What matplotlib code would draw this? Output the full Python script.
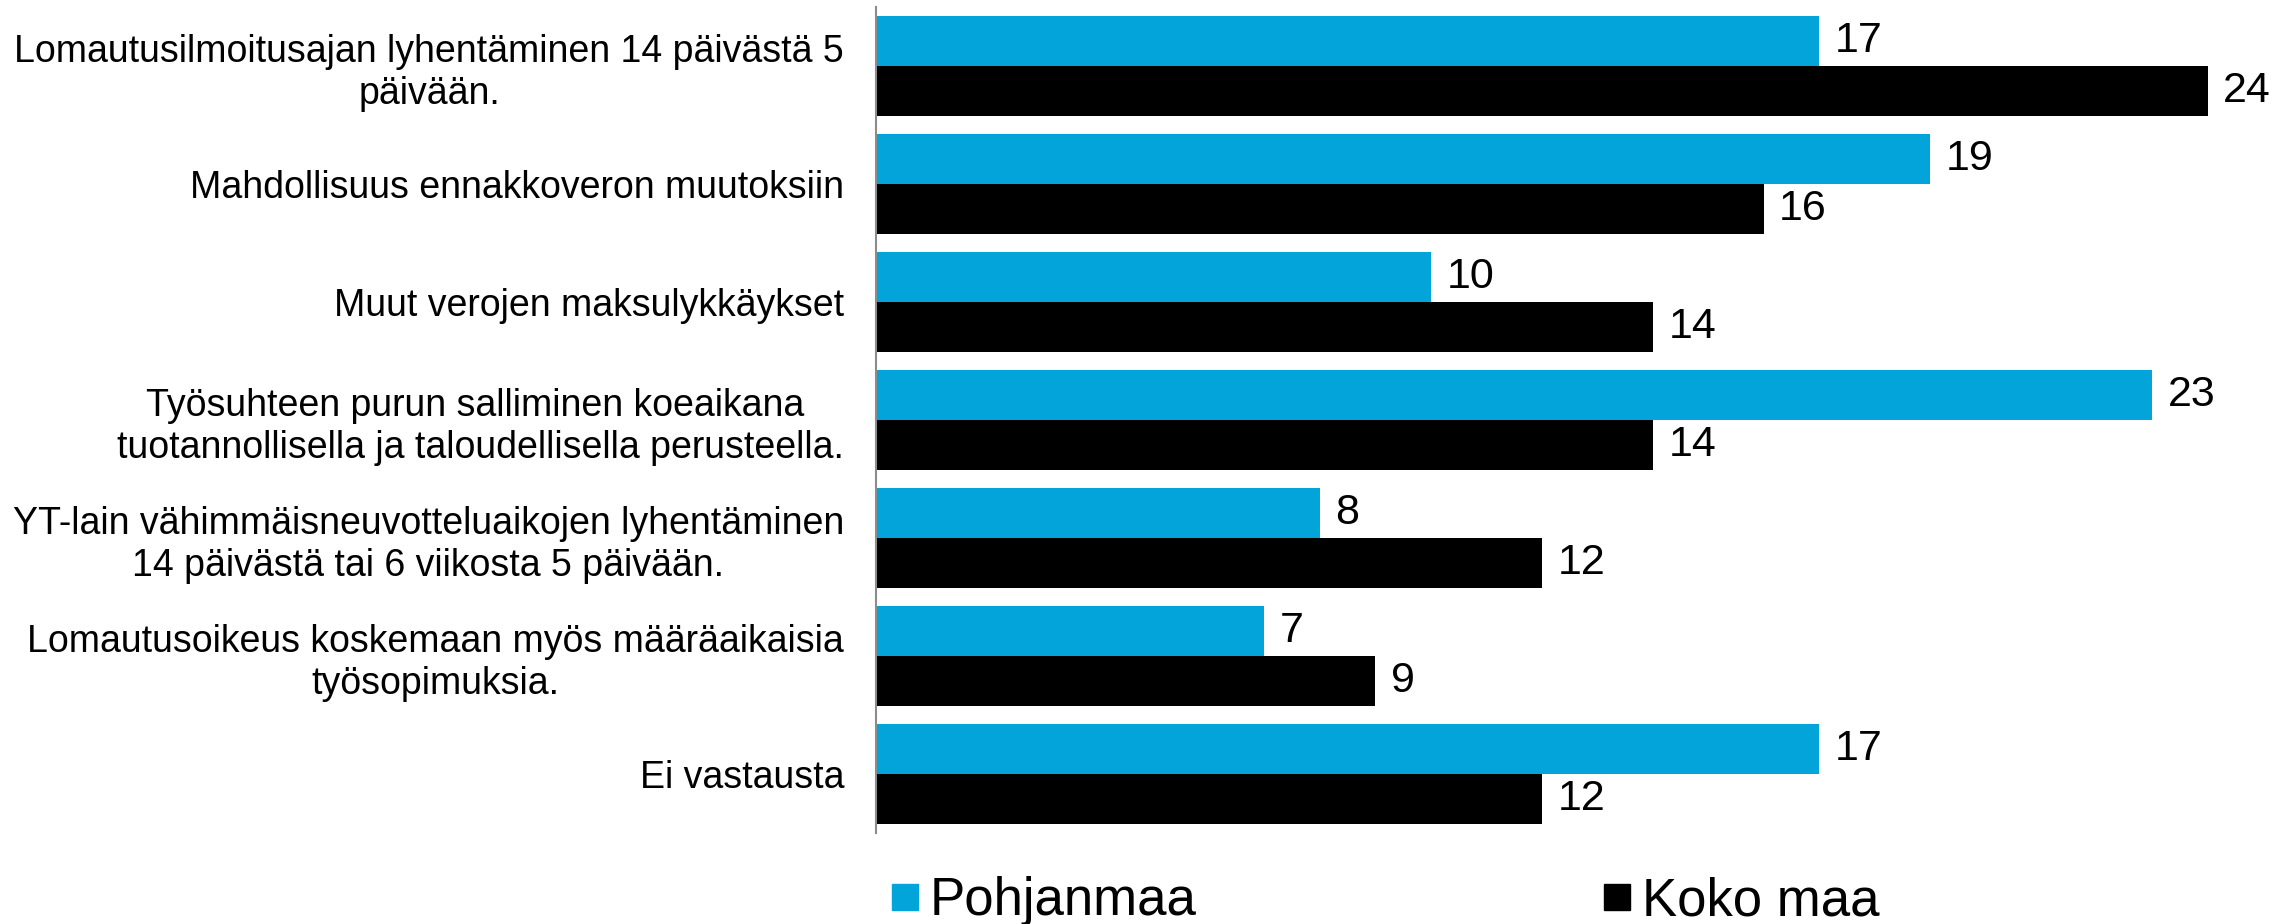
import matplotlib
matplotlib.use("Agg")
import matplotlib.pyplot as plt
from matplotlib.lines import Line2D
import numpy as np

plt.rcParams['font.family'] = ['Liberation Sans', 'DejaVu Sans']

categories = [
    "Lomautusilmoitusajan lyhentäminen 14 päivästä 5\npäivään.",
    "Mahdollisuus ennakkoveron muutoksiin",
    "Muut verojen maksulykkäykset",
    "Työsuhteen purun salliminen koeaikana \ntuotannollisella ja taloudellisella perusteella.",
    "YT-lain vähimmäisneuvotteluaikojen lyhentäminen\n14 päivästä tai 6 viikosta 5 päivään.",
    "Lomautusoikeus koskemaan myös määräaikaisia\ntyösopimuksia.",
    "Ei vastausta",
]
series_names = ["Pohjanmaa", "Koko maa"]
pohjanmaa = [17, 19, 10, 23, 8, 7, 17]
koko_maa = [24, 16, 14, 14, 12, 9, 12]
colors = ["#02A4DA", "#000000"]

W, H = 2293, 924
fig = plt.figure(figsize=(W / 100, H / 100), dpi=100)
ax = fig.add_axes([876 / W, 1 - 833 / H, (2263 - 876) / W, (833 - 7) / H])

y = np.arange(len(categories))
h = 0.42
b1 = ax.barh(y - h / 2, pohjanmaa, height=h, color=colors[0])
b2 = ax.barh(y + h / 2, koko_maa, height=h, color=colors[1])

for bars, vals in ((b1, pohjanmaa), (b2, koko_maa)):
    for bar, v in zip(bars, vals):
        ax.text(bar.get_width() + 0.28, bar.get_y() + bar.get_height() / 2, f"{v}",
                va='center', ha='left', fontsize=31, color='black')

ax.set_xlim(0, 25)
ax.set_ylim(len(categories) - 0.5, -0.5)
ax.set_yticks(y)
ax.set_yticklabels(categories, fontsize=27, multialignment='center', linespacing=1.2)
ax.tick_params(axis='y', length=0, pad=23)
ax.set_xticks([])
for s in ['top', 'right', 'bottom']:
    ax.spines[s].set_visible(False)
ax.spines['left'].set_color('#8c8c8c')
ax.spines['left'].set_linewidth(1.5)

handles = [Line2D([], [], marker='s', linestyle='none', markersize=19,
                  markerfacecolor=c, markeredgecolor=c) for c in colors]
fig.legend(handles, series_names, loc='lower left', bbox_to_anchor=(890 / W, 1 - 926 / H),
           ncol=2, fontsize=38, frameon=False, handlelength=0.55, handletextpad=0.2,
           columnspacing=7.7, borderpad=0, borderaxespad=0)

fig.savefig("out.png", dpi=100, facecolor='white')
